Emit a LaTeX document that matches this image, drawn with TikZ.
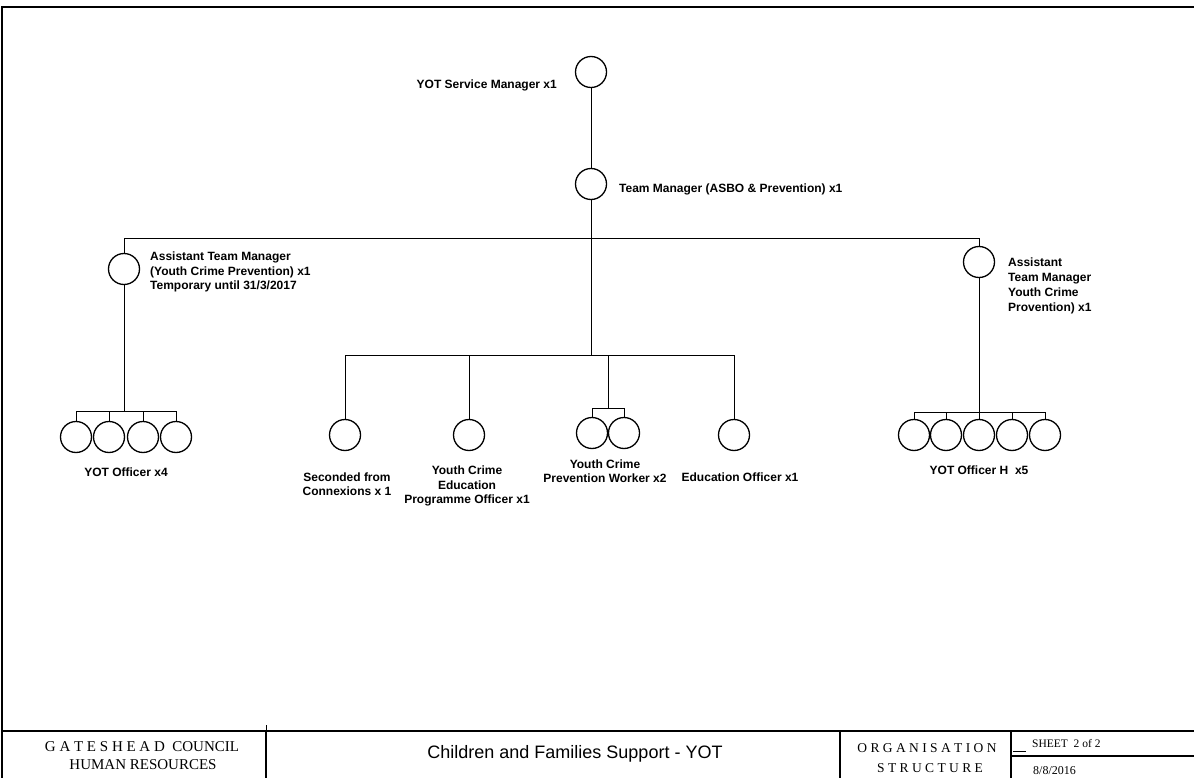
\documentclass[tikz,border=0pt]{standalone}
\usepackage{fontspec}
\setmainfont{Liberation Serif}
\newfontfamily\lsans{Liberation Sans}
\begin{document}
\begin{tikzpicture}[x=1pt,y=-1pt,
  post/.style={circle,draw,line width=1.3pt,minimum size=31pt,inner sep=0pt},
  lab/.style={font=\lsans\bfseries\fontsize{12}{14.5}\selectfont,inner sep=0pt},
  conn/.style={line width=1pt},
  frame/.style={line width=2.6pt},
  thin/.style={line width=0.8pt}]
\useasboundingbox (0,0) rectangle (1194,778);
% frame
\draw[frame] (1194,7) -- (2,7) -- (2,778);
\draw[frame] (2,731) -- (1194,731);
\draw[frame] (266,731) -- (266,778);
\draw[frame] (840,731) -- (840,778);
\draw[frame] (1011,731) -- (1011,778);
\draw[frame] (1011,756) -- (1194,756);
\draw[thin] (266,725) -- (266,731);
\draw[thin] (1013,751) -- (1026,751);
% title block texts
\node[inner sep=0pt,font=\fontsize{15}{18}\selectfont] (t1) at (142,747) {G A T E S H E A D\ \ COUNCIL};
\node[inner sep=0pt,font=\fontsize{15}{18}\selectfont] (t2) at (143,765) {HUMAN RESOURCES};
\node[inner sep=0pt,font=\lsans\fontsize{18}{20}\selectfont] (t3) at (575,754) {Children and Families Support - YOT};
\node[inner sep=0pt,font=\fontsize{13.5}{16}\selectfont] (t4) at (927,748) {O R G A N I S A T I O N};
\node[inner sep=0pt,font=\fontsize{13.5}{16}\selectfont] (t5) at (930,768) {S T R U C T U R E};
\node[inner sep=0pt,anchor=west,font=\fontsize{11.5}{14}\selectfont] (t6) at (1032,744) {SHEET\ \ 2 of 2};
\node[inner sep=0pt,anchor=west,font=\fontsize{12}{14}\selectfont] (t7) at (1033,771) {8/8/2016};
% circles
\node[post] (sm) at (591,72) {};
\node[post] (tm) at (591,184) {};
\node[post] (atmL) at (124,269) {};
\node[post] (atmR) at (979,262) {};
\node[post] (o1) at (76,437) {};
\node[post] (o2) at (109,437) {};
\node[post] (o3) at (143,437) {};
\node[post] (o4) at (176,437) {};
\node[post] (h1) at (914,435) {};
\node[post] (h2) at (946,435) {};
\node[post] (h3) at (979,435) {};
\node[post] (h4) at (1012,435) {};
\node[post] (h5) at (1045,435) {};
\node[post] (sec) at (345,435) {};
\node[post] (yce) at (469,435) {};
\node[post] (w1) at (592,433) {};
\node[post] (w2) at (624,433) {};
\node[post] (edu) at (734,435) {};
% junctions
\coordinate (b1) at (591,239);
\coordinate (b2) at (591,355);
\coordinate (b3) at (124,411);
\coordinate (b4) at (979,412);
\coordinate (wj) at (608,408);
% connectors
\draw[conn] (sm) -- (tm);
\draw[conn] (tm) -- (b2);
\draw[conn] (atmL.north) -- (atmL.north |- b1) -- (atmR.north |- b1) -- (atmR.north);
\draw[conn] (sec.north) -- (sec.north |- b2) -- (edu.north |- b2) -- (edu.north);
\draw[conn] (yce.north) -- (yce.north |- b2);
\draw[conn] (wj) -- (wj |- b2);
\draw[conn] (w1.north) -- (w1.north |- wj) -- (w2.north |- wj) -- (w2.north);
\draw[conn] (atmL.south) -- (b3);
\draw[conn] (o1.north) -- (o1.north |- b3) -- (o4.north |- b3) -- (o4.north);
\draw[conn] (o2.north) -- (o2.north |- b3);
\draw[conn] (o3.north) -- (o3.north |- b3);
\draw[conn] (atmR.south) -- (b4);
\draw[conn] (h1.north) -- (h1.north |- b4) -- (h5.north |- b4) -- (h5.north);
\draw[conn] (h2.north) -- (h2.north |- b4);
\draw[conn] (h3.north) -- (h3.north |- b4);
\draw[conn] (h4.north) -- (h4.north |- b4);
% labels
\node[lab,anchor=east] (lsm) at (557,85) {YOT Service Manager x1};
\node[lab,anchor=west] (ltm) at (619,189) {Team Manager (ASBO \& Prevention) x1};
\node[lab,anchor=west,align=left] (latmL) at (150,272) {Assistant Team Manager\\(Youth Crime Prevention) x1\\Temporary until 31/3/2017};
\node[lab,anchor=west,align=left,font=\lsans\bfseries\fontsize{12}{15}\selectfont] (latmR) at (1008,285.5) {Assistant\\Team Manager\\Youth Crime\\Provention) x1};
\node[lab] (lo) at (126,472) {YOT Officer x4};
\node[lab] (lh) at (979,470) {YOT Officer H\ \ x5};
\node[lab,align=center] (lsec) at (347,484) {Seconded from\\Connexions x 1};
\node[lab,align=center] (lyce) at (467,486) {Youth Crime\\Education\\Programme Officer x1};
\node[lab,align=center] (lw) at (605,471) {Youth Crime\\Prevention Worker x2};
\node[lab] (ledu) at (740,477) {Education Officer x1};
\end{tikzpicture}
\end{document}
